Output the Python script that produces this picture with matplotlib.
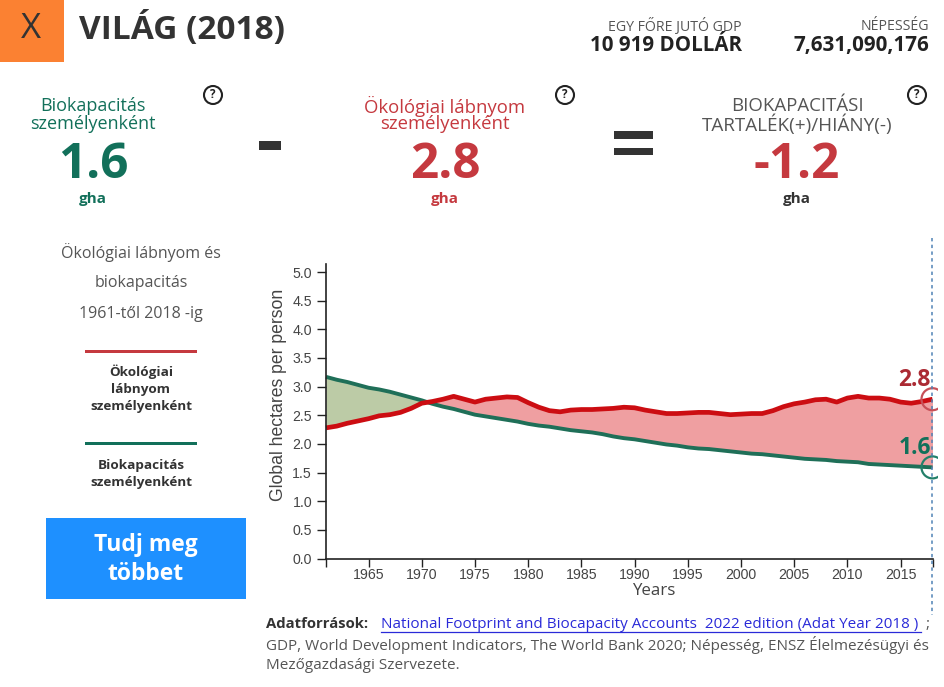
import matplotlib

matplotlib.use("Agg")

import matplotlib.pyplot as plt
import numpy as np
from matplotlib.patches import Circle, Rectangle


YEARS = list(range(1961, 2019))
FOOTPRINT = [
    2.28, 2.31, 2.36, 2.40, 2.44, 2.49, 2.51, 2.55, 2.62, 2.71,
    2.74, 2.78, 2.83, 2.78, 2.73, 2.78, 2.80, 2.82, 2.81, 2.72,
    2.64, 2.58, 2.56, 2.59, 2.60, 2.60, 2.61, 2.62, 2.64, 2.63,
    2.59, 2.56, 2.53, 2.53, 2.54, 2.55, 2.55, 2.53, 2.51, 2.52,
    2.53, 2.53, 2.58, 2.65, 2.70, 2.73, 2.77, 2.78, 2.73, 2.80,
    2.83, 2.80, 2.80, 2.78, 2.73, 2.71, 2.74, 2.78,
]
BIOCAPACITY = [
    3.17, 3.12, 3.08, 3.03, 2.98, 2.95, 2.91, 2.86, 2.81, 2.76,
    2.70, 2.65, 2.61, 2.56, 2.51, 2.48, 2.45, 2.42, 2.39, 2.35,
    2.32, 2.30, 2.27, 2.24, 2.22, 2.20, 2.17, 2.13, 2.10, 2.08,
    2.05, 2.02, 1.99, 1.97, 1.94, 1.92, 1.91, 1.89, 1.87, 1.85,
    1.83, 1.82, 1.80, 1.78, 1.76, 1.74, 1.73, 1.72, 1.70, 1.69,
    1.68, 1.65, 1.64, 1.63, 1.62, 1.61, 1.60, 1.59,
]
X_TICKS = [1961, 1965, 1970, 1975, 1980, 1985, 1990, 1995, 2000, 2005, 2010, 2015, 2018]
X_LABELS = ["", "1965", "1970", "1975", "1980", "1985", "1990", "1995", "2000", "2005", "2010", "2015", ""]
Y_TICKS = [0.0, 0.5, 1.0, 1.5, 2.0, 2.5, 3.0, 3.5, 4.0, 4.5, 5.0]

WIDTH, HEIGHT = 945, 687
GREEN = "#12705a"
RED = "#c5393f"
DARK = "#333333"
GREY = "#555555"
UI_FONT = "Open Sans"

fig = plt.figure(figsize=(WIDTH / 100, HEIGHT / 100), dpi=100, facecolor="white")

# page furniture lives on a full-figure axes in pixel coordinates
page = fig.add_axes([0, 0, 1, 1])
page.set_xlim(0, WIDTH)
page.set_ylim(HEIGHT, 0)
page.axis("off")


def label(x, y, text, size, color=DARK, weight="normal", ha="center", family=UI_FONT):
    # Open Sans sits a little high when centred, nudge it down with the size
    return page.text(x, y + size * 0.1, text, fontsize=size, color=color, fontweight=weight,
                     ha=ha, va="center", family=family)


def help_icon(x, y):
    page.add_patch(Circle((x, y), 9, fill=False, ec="#222222", lw=1.5))
    label(x, y - 1, "?", 8.5, "#222222", "bold")


# header
page.add_patch(Rectangle((0, 0), 64, 61.5, fc="#fb8132", ec="none"))
label(31, 27, "X", 25, DARK)
label(79, 27, "VILÁG (2018)", 24, DARK, "bold", ha="left")
label(742, 25.5, "EGY FŐRE JUTÓ GDP", 10.2, GREY, ha="right")
label(742, 44, "10 919 DOLLÁR", 14.8, "#222222", "bold", ha="right")
label(929, 25.5, "NÉPESSÉG", 10.2, GREY, ha="right")
label(929, 44, "7,631,090,176", 14.9, "#222222", "bold", ha="right")

# equation row
label(93, 105, "Biokapacitás", 13, GREEN)
label(93, 123, "személyenként", 13, GREEN)
label(93, 162, "1.6", 35.5, GREEN, "bold")
label(93, 198, "gha", 11, GREEN, "bold")
help_icon(213, 95)

page.add_patch(Rectangle((258.5, 141), 22, 9, fc=DARK, ec="none"))

label(445, 105, "Ökológiai lábnyom", 13.3, RED)
label(445, 123, "személyenként", 13.3, RED)
label(445, 162, "2.8", 35.5, RED, "bold")
label(445, 198, "gha", 11, RED, "bold")
help_icon(565, 95)

page.add_patch(Rectangle((614, 131), 39, 7.5, fc=DARK, ec="none"))
page.add_patch(Rectangle((614, 147.5), 39, 7.5, fc=DARK, ec="none"))

label(797, 105, "BIOKAPACITÁSI", 13.4, GREY)
label(797, 123, "TARTALÉK(+)/HIÁNY(-)", 13.6, GREY)
label(797, 162, "-1.2", 35.5, RED, "bold")
label(797, 198, "gha", 11, DARK, "bold")
help_icon(917, 95)

# left legend panel
label(141, 251, "Ökológiai lábnyom és", 11.5, GREY)
label(141, 282, "biokapacitás", 11.5, GREY)
label(141, 313, "1961-től 2018 -ig", 11.5, GREY)
page.add_patch(Rectangle((84.5, 350), 112.5, 3.2, fc=RED, ec="none"))
label(141, 371, "Ökológiai", 9.7, DARK, "bold")
label(141, 388.5, "lábnyom", 9.7, DARK, "bold")
label(141, 405.5, "személyenként", 9.7, DARK, "bold")
page.add_patch(Rectangle((84.5, 441.5), 112.5, 3.2, fc=GREEN, ec="none"))
label(141, 464.5, "Biokapacitás", 9.7, DARK, "bold")
label(141, 481.5, "személyenként", 9.7, DARK, "bold")
page.add_patch(Rectangle((46, 518), 200, 80.5, fc="#1e90ff", ec="none"))
label(146, 543, "Tudj meg", 16.5, "white", "bold")
label(146, 572, "többet", 16.5, "white", "bold")

# chart: axes box is set so years and values land on the reference pixels
left, right, bottom, top = 326.0, 932.5, 558.5, 264.0
chart = fig.add_axes([left / WIDTH, 1 - bottom / HEIGHT,
                      (right - left) / WIDTH, (bottom - top) / HEIGHT])
chart.patch.set_alpha(0)
chart.set_xlim(1961, 2018)
chart.set_ylim(0, (bottom - top) / 57.3)

years = np.array(YEARS)
footprint = np.array(FOOTPRINT)
biocapacity = np.array(BIOCAPACITY)
chart.fill_between(years, footprint, biocapacity, where=biocapacity >= footprint,
                   interpolate=True, color="#bccba6", lw=0)
chart.fill_between(years, footprint, biocapacity, where=footprint >= biocapacity,
                   interpolate=True, color="#ef9fa1", lw=0)
chart.plot(years, biocapacity, color="#1f6f58", lw=2.8, solid_capstyle="butt", clip_on=False)
chart.plot(years, footprint, color="#cc0d12", lw=3.4, solid_capstyle="butt", clip_on=False)

for spine in ("top", "right"):
    chart.spines[spine].set_visible(False)
for spine in ("left", "bottom"):
    chart.spines[spine].set_color("#222222")
    chart.spines[spine].set_linewidth(1.2)
chart.set_xticks(X_TICKS, X_LABELS)
chart.set_yticks(Y_TICKS, [f"{v:.1f}" for v in Y_TICKS])
chart.tick_params(axis="both", labelsize=10.2, labelcolor="#444444", color="#222222",
                  labelfontfamily="Liberation Sans")
chart.tick_params(axis="x", length=5.5, width=1.0, pad=1.5)
chart.tick_params(axis="y", length=6.5, width=1.0, pad=3.5)
chart.set_ylabel("Global hectares per person", fontsize=12.7, color="#444444",
                 family="Liberation Sans")
chart.yaxis.set_label_coords(-0.064, 0.555)
chart.text(1991.8, -0.56, "Years", fontsize=12.2, color="#444444", family=UI_FONT,
           ha="center", va="center")

# end-of-series markers are cut off by the page edge of the original widget
clip_box = Rectangle((0, 0), 938, HEIGHT, transform=page.transData)
for value, color in ((FOOTPRINT[-1], "#c75058"), (BIOCAPACITY[-1], "#23806a")):
    ring = page.add_patch(Circle((right, bottom - value * 57.3), 11, fill=False, ec=color, lw=1.6))
    ring.set_clip_path(clip_box)
page.set_zorder(2)
page.patch.set_alpha(0)
page.plot([right - 0.5, right - 0.5], [238, 615], color="#4f82b5", lw=1.1, ls=(0, (2.2, 2.2)))
label(931, 378, "2.8", 16.5, "#ab2a33", "bold", ha="right")
label(931, 446, "1.6", 16.5, GREEN, "bold", ha="right")

# sources
label(266, 623, "Adatforrások:", 10.7, DARK, "bold", ha="left")
label(381, 623, "National Footprint and Biocapacity Accounts  2022 edition (Adat Year 2018 )",
      11, "#2a2ad8", ha="left")
label(925, 623, ";", 11, GREY, ha="left")
label(266, 644, "GDP, World Development Indicators, The World Bank 2020; Népesség, ENSZ Élelmezésügyi és",
      11, GREY, ha="left")
label(266, 664, "Mezőgazdasági Szervezete.", 11, GREY, ha="left")
page.plot([381, 921], [632, 632], color="#2a2ad8", lw=0.9)

fig.savefig("out.png", dpi=100)
